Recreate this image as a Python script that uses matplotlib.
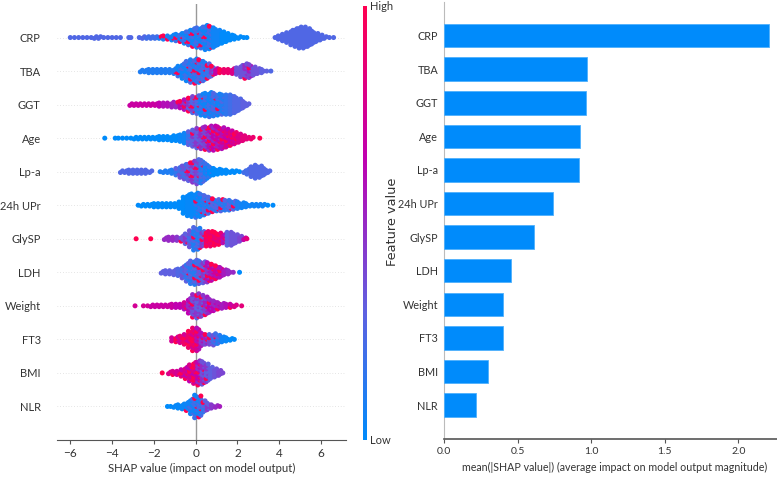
import matplotlib
matplotlib.use("Agg")
import matplotlib.pyplot as plt
from matplotlib.colors import LinearSegmentedColormap
from matplotlib.cm import ScalarMappable
import numpy as np

plt.rcParams['font.family'] = ['Lato', 'DejaVu Sans']

features = ['CRP', 'TBA', 'GGT', 'Age', 'Lp-a', '24h UPr', 'GlySP', 'LDH', 'Weight', 'FT3', 'BMI', 'NLR']
mean_shap = [2.21, 0.97, 0.965, 0.92, 0.915, 0.74, 0.61, 0.455, 0.40, 0.40, 0.30, 0.215]

# swarm in bins: position, dots in the bin, colour value, share of hot dots
crp_x = [-6.0, -5.8, -5.6, -5.4, -5.2, -5.0, -4.8, -4.6, -4.4, -4.2, -4.0, -3.8, -3.6, -3.2, -3.1, -2.7, -2.5, -2.3, -2.1, -1.9, -1.7, -1.5, -1.3, -1.1, -0.9, -0.7, -0.5, -0.3, -0.1, 0.1, 0.3, 0.5, 0.7, 0.9, 1.1, 1.3, 1.5, 1.7, 1.9, 2.1, 2.3, 2.45, 3.8, 4.0, 4.2, 4.4, 4.6, 4.8, 5.0, 5.2, 5.4, 5.6, 5.8, 6.0, 6.2, 6.4, 6.6]
crp_n = [1, 1, 1, 1, 1, 1, 2, 2, 1, 1, 1, 1, 1, 1, 1, 1, 2, 2, 2, 2, 2, 3, 3, 4, 5, 6, 8, 10, 12, 13, 14, 16, 15, 13, 10, 8, 6, 4, 3, 2, 1, 1, 1, 3, 5, 7, 10, 12, 14, 14, 12, 9, 6, 4, 2, 1, 1]
crp_c = [.25] * 17 + [.2, .2, .2, .1, .1, .1, .05, .05, .05, .05, .05, .05, .05, .05, .05, .05, .05, .05, 0, 0, 0, 0, 0, 0, 0] + [.25] * 15
crp_m = [0] * 18 + [.1, .15, .2, .3, .3, .2, .2, .2, .15, .15, .15, .12, .12, .1, .1, 0, 0, 0, 0, 0, 0, 0, 0, 0, 0, 0, 0, 0, 0, 0, 0, 0, 0, 0, 0, 0, 0, 0, 0]

tba_x = [-2.6, -2.4, -2.2, -2.0, -1.8, -1.6, -1.4, -1.2, -1.0, -0.8, -0.6, -0.4, -0.2, 0.0, 0.2, 0.4, 0.6, 0.8, 1.0, 1.2, 1.4, 1.6, 1.8, 2.0, 2.2, 2.4, 2.6, 2.8, 3.0, 3.2, 3.4, 3.6]
tba_n = [2, 2, 3, 3, 3, 3, 3, 3, 4, 7, 10, 13, 15, 16, 15, 13, 10, 7, 4, 3, 3, 3, 4, 5, 8, 10, 9, 6, 4, 3, 1, 1]
tba_c = [.1, .1, .1, .1, .1, .1, .1, .1, .1, .05, .05, .05, .1, .1, .1, .1, .15, .3, .7, .9, .9, .9, .8, .35, .35, .35, .4, .35, .35, .3, .3, .25]
tba_m = [0, 0, 0, 0, 0, 0, 0, 0, .1, .05, .05, .05, .12, .15, .15, .1, .1, .2, .3, .3, .3, .3, 0, 0, 0, .05, .05, 0, 0, 0, 0, 0]

ggt_x = [-3.1, -2.9, -2.7, -2.5, -2.3, -2.1, -1.9, -1.7, -1.5, -1.3, -1.1, -0.9, -0.7, -0.5, -0.3, -0.1, 0.1, 0.3, 0.5, 0.7, 0.9, 1.1, 1.3, 1.5, 1.7, 1.9, 2.1, 2.3, 2.5]
ggt_n = [2, 2, 2, 2, 2, 2, 2, 3, 3, 3, 4, 4, 5, 7, 9, 11, 12, 14, 15, 16, 15, 14, 13, 13, 13, 11, 8, 5, 2]
ggt_c = [.7, .7, .7, .7, .7, .7, .7, .65, .6, .6, .55, .5, .5, .45, .3, .25, .1, .05, .05, .05, .1, .05, .1, .15, .2, .25, .25, .3, .3]
ggt_m = [0, 0, 0, 0, 0, 0, 0, 0, .05, .1, .1, .15, .2, .25, .3, .3, .15, .08, .1, .08, .05, .03, .02, 0, 0, 0, 0, 0, 0]

age_x = [-4.35, -3.85, -3.7, -3.5, -3.3, -3.1, -2.9, -2.7, -2.5, -2.3, -2.1, -1.9, -1.7, -1.5, -1.3, -1.1, -0.9, -0.7, -0.5, -0.3, -0.1, 0.1, 0.3, 0.5, 0.7, 0.9, 1.1, 1.3, 1.5, 1.7, 1.9, 2.1, 2.3, 2.5, 2.7, 3.07]
age_n = [1, 1, 1, 1, 1, 1, 2, 2, 2, 2, 2, 2, 3, 3, 3, 4, 4, 5, 7, 9, 11, 13, 14, 15, 16, 16, 15, 14, 12, 10, 8, 6, 4, 2, 2, 1]
age_c = [0, 0, 0, 0, 0, 0, 0, 0, 0, 0, 0, 0, 0, 0, 0, 0, 0, .03, .05, .15, .3, .3, .35, .4, .45, .5, .55, .6, .65, .7, .75, .8, .85, .85, .9, 1]
age_m = [0, 0, 0, 0, 0, 0, 0, 0, 0, 0, 0, 0, 0, 0, 0, 0, 0, 0, 0, .05, .05, .1, .2, .2, .25, .25, .25, .2, .2, .2, .2, 0, 0, 0, 0, 0]

lpa_x = [-3.55, -3.35, -3.15, -2.95, -2.75, -2.55, -2.35, -2.15, -1.7, -1.5, -1.3, -1.1, -0.9, -0.7, -0.5, -0.3, -0.1, 0.1, 0.3, 0.5, 0.7, 0.9, 1.1, 1.3, 1.5, 1.7, 1.9, 2.1, 2.35, 2.5, 2.7, 2.9, 3.1, 3.3, 3.5]
lpa_n = [2, 2, 3, 3, 3, 3, 3, 2, 1, 2, 2, 3, 5, 8, 10, 12, 14, 16, 15, 11, 7, 5, 4, 3, 3, 2, 2, 1, 2, 4, 7, 9, 8, 5, 2]
lpa_c = [.25, .25, .25, .25, .25, .25, .25, .25, .1, .1, .1, .1, .15, .2, .2, .3, .3, .25, .1, .05, 0, 0, 0, 0, 0, 0, 0, 0, .2, .22, .25, .25, .25, .25, .25]
lpa_m = [0, 0, 0, 0, 0, 0, 0, 0, 0, 0, 0, 0, .05, .1, .15, .2, .2, .15, .1, .05, .02, 0, 0, 0, 0, 0, 0, 0, 0, 0, 0, 0, 0, 0, 0]

upr_x = [-2.75, -2.55, -2.35, -2.15, -1.95, -1.75, -1.55, -1.35, -1.15, -0.95, -0.75, -0.55, -0.35, -0.15, 0.05, 0.25, 0.45, 0.65, 0.85, 1.05, 1.25, 1.45, 1.65, 1.85, 2.05, 2.25, 2.45, 2.65, 2.85, 3.05, 3.25, 3.45, 3.7]
upr_n = [1, 2, 2, 2, 3, 3, 3, 3, 3, 3, 5, 11, 14, 15, 16, 15, 13, 11, 9, 8, 8, 7, 7, 6, 5, 4, 3, 2, 2, 2, 2, 1, 1]
upr_c = [0] * 12 + [.02, .02, .03, .03, .1, .1, .12, .12, .12, .12, .15, .12, .1, .05, .05, .05, .05, .05, .05, 0, 0]
upr_m = [0] * 14 + [.02, .06, .18, .2, .15, .1, .12, .06, .1, .03, 0, 0, 0, 0, 0, 0, 0, 0, 0]

gly_x = [-2.85, -2.15, -1.45, -1.25, -1.05, -0.85, -0.65, -0.45, -0.25, -0.05, 0.15, 0.35, 0.55, 0.75, 0.95, 1.15, 1.35, 1.55, 1.75, 1.95, 2.15, 2.35, 2.45]
gly_n = [1, 1, 2, 3, 3, 3, 4, 7, 11, 15, 14, 10, 10, 10, 9, 8, 6, 9, 9, 6, 4, 2, 1]
gly_c = [1, 1, .5, .5, .5, .45, .35, .3, .2, .1, .1, .3, .9, .9, .85, .85, .6, .3, .35, .35, .4, .7, .85]
gly_m = [0, 0, 0, 0, 0, 0, .1, .1, .05, .03, .03, .2, .1, .1, .1, .1, .2, 0, 0, 0, 0, 0, 0]

ldh_x = [-1.6, -1.4, -1.2, -1.0, -0.8, -0.6, -0.4, -0.2, 0.0, 0.2, 0.4, 0.6, 0.8, 1.0, 1.2, 1.4, 1.6, 1.8, 2.1]
ldh_n = [2, 3, 3, 4, 5, 8, 12, 15, 16, 15, 14, 13, 11, 9, 7, 4, 3, 1, 1]
ldh_c = [.3, .3, .3, .3, .25, .2, .15, .12, .12, .2, .3, .45, .55, .6, .6, .55, .5, .5, 0]
ldh_m = [0, 0, 0, 0, 0, .03, .03, .05, .1, .15, .2, .25, .25, .25, .15, 0, 0, 0, 0]

wt_x = [-2.9, -2.5, -2.3, -2.1, -1.9, -1.7, -1.5, -1.3, -1.1, -0.9, -0.7, -0.5, -0.3, -0.1, 0.1, 0.3, 0.5, 0.7, 0.9, 1.1, 1.3, 1.5, 1.7, 1.9, 2.2]
wt_n = [1, 1, 1, 2, 2, 2, 2, 2, 3, 3, 3, 5, 10, 15, 16, 14, 12, 9, 7, 5, 4, 3, 3, 2, 1]
wt_c = [.75, .75, .75, .7, .7, .7, .7, .7, .7, .65, .65, .6, .5, .35, .3, .3, .4, .5, .5, .55, .55, .6, .7, .8, .85]
wt_m = [0, 0, 0, 0, 0, 0, 0, 0, 0, 0, 0, .05, .1, .1, .1, .15, .2, .2, .15, .1, .05, .1, .1, 0, 0]

ft3_x = [-1.1, -0.9, -0.7, -0.5, -0.3, -0.1, 0.1, 0.3, 0.5, 0.7, 0.9, 1.1, 1.3, 1.5, 1.7, 1.85]
ft3_n = [3, 4, 5, 7, 11, 15, 15, 9, 7, 7, 8, 6, 4, 3, 2, 1]
ft3_c = [.75, .75, .75, .75, .75, .75, .6, .45, .4, .25, .2, .12, .05, .03, 0, 0]
ft3_m = [.3, .3, .3, .3, .35, .35, .25, .2, .2, .15, .1, .05, 0, 0, 0, 0]

bmi_x = [-1.6, -1.25, -1.05, -0.85, -0.65, -0.45, -0.25, -0.05, 0.15, 0.35, 0.55, 0.75, 0.95, 1.15, 1.3]
bmi_n = [1, 2, 3, 3, 5, 8, 11, 14, 16, 15, 12, 8, 6, 4, 1]
bmi_c = [1, .8, .8, .75, .7, .65, .65, .65, .5, .35, .3, .3, .35, .4, .4]
bmi_m = [0, 0, .2, .2, .2, .2, .3, .35, .25, .1, .05, 0, 0, 0, 0]

nlr_x = [-1.35, -1.2, -1.0, -0.8, -0.6, -0.4, -0.2, 0.0, 0.2, 0.4, 0.6, 0.8, 1.0, 1.15]
nlr_n = [1, 1, 2, 3, 4, 6, 10, 15, 14, 8, 5, 3, 2, 1]
nlr_c = [0, 0, .02, .02, .03, .05, .05, .05, .08, .15, .3, .45, .5, .55]
nlr_m = [0, 0, 0, 0, .05, .1, .05, .1, .1, .1, .1, .1, 0, 0]

swarms = [(crp_x, crp_n, crp_c, crp_m), (tba_x, tba_n, tba_c, tba_m), (ggt_x, ggt_n, ggt_c, ggt_m),
          (age_x, age_n, age_c, age_m), (lpa_x, lpa_n, lpa_c, lpa_m), (upr_x, upr_n, upr_c, upr_m),
          (gly_x, gly_n, gly_c, gly_m), (ldh_x, ldh_n, ldh_c, ldh_m), (wt_x, wt_n, wt_c, wt_m),
          (ft3_x, ft3_n, ft3_c, ft3_m), (bmi_x, bmi_n, bmi_c, bmi_m), (nlr_x, nlr_n, nlr_c, nlr_m)]

W, H = 777, 478
TEXT = '#333333'
shap_cmap = LinearSegmentedColormap.from_list(
    'red_blue', [(0, '#008bfb'), (.3, '#6060e0'), (.65, '#c000b0'), (1, '#ff0051')])


def px_axes(left, top, right, bottom):
    return fig.add_axes([left / W, 1 - bottom / H, (right - left) / W, (bottom - top) / H])


fig = plt.figure(figsize=(W / 100, H / 100), dpi=100)

# beeswarm
ax = px_axes(56.7, 4, 345.7, 440)
n_feat = len(features)
ax.axvline(0, color='#999999', lw=1, zorder=1)
px, py, pc = [], [], []
for i, (xs, ns, cs, ms) in enumerate(swarms):
    row = n_feat - 1 - i
    ax.axhline(row, color='#cccccc', lw=0.5, ls=(0, (1, 3)), zorder=0)
    for b, (x, n, c, m) in enumerate(zip(xs, ns, cs, ms)):
        for k in range(n):
            # stack the dots of a bin around the row, every other one nudged sideways
            px.append(x + (0.05 if k % 2 else -0.05) * (n > 1))
            py.append(row + (k - (n - 1) / 2) * 0.048)
            step = ((k + b * 7 + i * 3) * 0.618) % 1
            if step < m:
                pc.append(1.0)
            elif m > 0 and n > 4 and step > 0.6:
                pc.append(c + 0.15)  # core of a swarm is mottled
            else:
                pc.append(c)
ax.scatter(px, py, c=pc, cmap=shap_cmap, vmin=0, vmax=1, s=13, linewidths=0, zorder=3)
ax.set_xlim(-6.65, 7.18)
ax.set_ylim(-1, n_feat)
ax.set_yticks(range(n_feat))
ax.set_yticklabels(features[::-1], fontsize=8, color=TEXT)
ax.set_xticks([-6, -4, -2, 0, 2, 4, 6])
ax.set_xticklabels(['\u22126', '\u22124', '\u22122', '0', '2', '4', '6'], fontsize=8.5, color=TEXT)
ax.tick_params(axis='y', length=0, pad=11.5)
ax.tick_params(axis='x', length=3, width=0.8, color='#555555', pad=3)
ax.set_xlabel('SHAP value (impact on model output)', fontsize=8.2, color=TEXT)
ax.xaxis.set_label_coords(0.5, -0.052)
for s in ['top', 'left', 'right']:
    ax.spines[s].set_visible(False)
ax.spines['bottom'].set_color('#555555')

# colour bar
cax = px_axes(363, 6, 367, 440)
cb = fig.colorbar(ScalarMappable(cmap=shap_cmap), cax=cax)
cb.outline.set_visible(False)
cb.set_ticks([0, 1])
cb.set_ticklabels(['Low', 'High'], fontsize=8, color=TEXT)
cax.tick_params(length=0, pad=2)
fig.text(393 / W, 1 - 222 / H, 'Feature value', rotation=90, ha='center', va='center',
         fontsize=9.3, color=TEXT, family='DejaVu Sans')

# mean bars
ax2 = px_axes(444.3, 2, 777, 438.7)
rows = np.arange(n_feat)[::-1]
ax2.barh(rows, mean_shap, height=0.7, color='#008bfb', edgecolor='#4fb0fc', linewidth=0.6, zorder=3)
ax2.set_xlim(0, 2.263)
ax2.set_ylim(-1, n_feat)
ax2.set_yticks(rows)
ax2.set_yticklabels(features, fontsize=7.8, color=TEXT)
ax2.set_xticks([0, 0.5, 1.0, 1.5, 2.0])
ax2.set_xticklabels(['0.0', '0.5', '1.0', '1.5', '2.0'], fontsize=7.5, color=TEXT)
ax2.tick_params(axis='y', length=0, pad=4.5)
ax2.tick_params(axis='x', length=3, width=0.8, color='#555555', pad=3)
ax2.set_xlabel('mean(|SHAP value|) (average impact on model output magnitude)', fontsize=7.7, color=TEXT)
ax2.xaxis.set_label_coords((615 - 444.3) / (777 - 444.3), -0.053)
for s in ['top', 'right']:
    ax2.spines[s].set_visible(False)
ax2.spines['left'].set_color('#bbbbbb')
ax2.spines['bottom'].set_color('#555555')
ax2.spines['bottom'].set_linewidth(1.2)

fig.savefig('out.png', dpi=100)
